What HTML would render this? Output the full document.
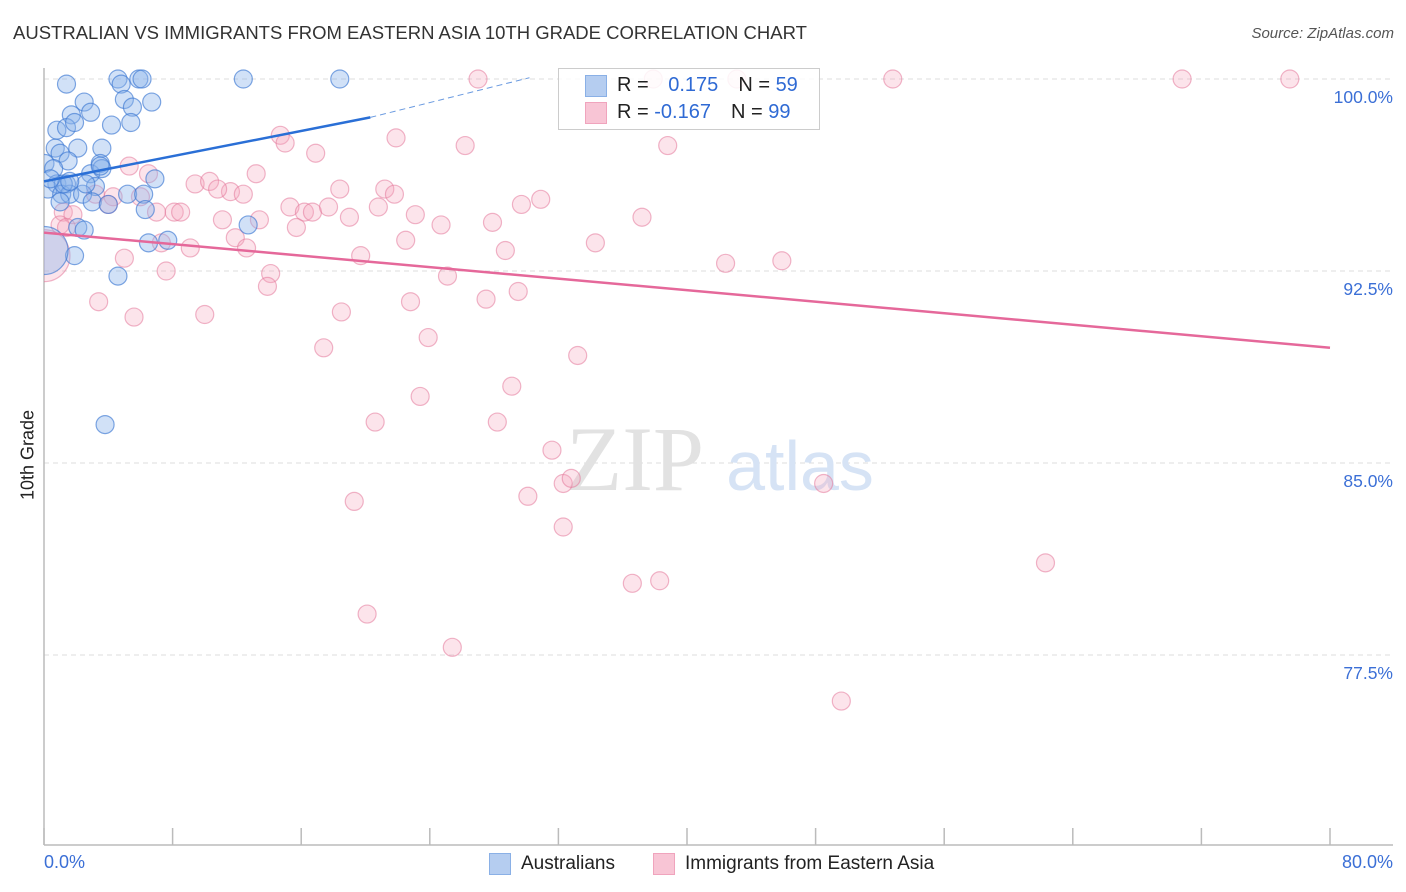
<!DOCTYPE html>
<html><head><meta charset="utf-8"><style>
body{margin:0;background:#fff;font-family:"Liberation Sans",sans-serif;}
#wrap{position:relative;width:1406px;height:892px;overflow:hidden;}
.t{position:absolute;white-space:nowrap;}
</style></head><body>
<div id="wrap">
<div class="t" style="left:13px;top:22px;font-size:18.5px;color:#333;">AUSTRALIAN VS IMMIGRANTS FROM EASTERN ASIA 10TH GRADE CORRELATION CHART</div>
<div class="t" style="right:12px;top:25px;font-size:15px;color:#555;font-style:italic;">Source: ZipAtlas.com</div>
<svg id="svg" width="1406" height="892" style="position:absolute;left:0;top:0"><defs><clipPath id="cp"><rect x="44" y="60" width="1360" height="785"/></clipPath></defs><g id="pts" clip-path="url(#cp)"></g></svg>
</div>
<script>
const yTicks=[100,92.5,85,77.5];
const yTickLabels=["100.0%","92.5%","85.0%","77.5%"];
const xTickCount=10;
const blueX=[1.4,4.6,4.8,5.9,6.1,12.4,18.4,2.5,5.0,6.7,1.7,2.9,5.5,0.8,1.4,1.9,4.2,5.4,3.6,0.7,2.1,3.5,1.0,1.5,0.06,0.6,2.9,3.6,6.9,0.8,1.4,3.2,0.25,1.1,1.6,2.4,3.0,5.2,6.2,4.0,6.3,2.1,2.5,6.5,7.7,12.7,4.6,1.9,3.8,1.2,2.6,0.4,1.6,3.5,1.0,0.0];
const blueY=[99.8,100,99.8,100,100,100,100,99.1,99.2,99.1,98.6,98.7,98.9,98.0,98.1,98.3,98.2,98.3,97.3,97.3,97.3,96.7,97.1,96.8,96.7,96.5,96.3,96.5,96.1,95.9,95.9,95.8,95.7,95.5,95.5,95.5,95.2,95.5,95.5,95.1,94.9,94.2,94.1,93.6,93.7,94.3,92.3,93.1,86.5,95.9,95.9,96.1,96.0,96.6,95.2,93.3];
const pinkX=[27.0,37.9,43.1,52.8,70.8,77.5,14.7,15.0,21.9,26.2,38.8,16.9,5.3,6.5,13.2,9.4,10.3,11.6,10.8,12.4,18.4,21.2,21.8,30.9,29.7,3.2,4.3,6.0,4.0,1.2,1.8,7.0,8.1,8.5,11.1,13.4,15.3,16.2,16.7,17.7,19.0,20.8,23.1,24.7,27.9,37.2,1.0,1.4,7.3,9.1,11.9,15.7,22.5,28.7,34.3,19.7,12.6,5.0,7.6,14.1,25.1,42.4,45.9,13.9,3.4,5.6,10.0,18.5,22.8,27.5,29.5,23.9,17.4,33.2,23.4,29.1,20.6,28.2,31.6,32.3,32.8,48.5,30.1,19.3,32.3,62.3,36.6,38.3,20.1,25.4,49.6,0.0];
const pinkY=[100,100,100,100,100,100,97.8,97.5,97.7,97.4,97.4,97.1,96.6,96.3,96.3,95.9,96.0,95.6,95.7,95.5,95.7,95.7,95.5,95.3,95.1,95.5,95.4,95.4,95.1,94.8,94.7,94.8,94.8,94.8,94.5,94.5,95.0,94.8,94.8,95.0,94.6,95.0,94.7,94.3,94.4,94.6,94.3,94.2,93.6,93.4,93.8,94.2,93.7,93.3,93.6,93.1,93.4,93.0,92.5,92.4,92.3,92.8,92.9,91.9,91.3,90.7,90.8,90.9,91.3,91.4,91.7,89.9,89.5,89.2,87.6,88.0,86.6,86.6,85.5,84.2,84.4,84.2,83.7,83.5,82.5,81.1,80.3,80.4,79.1,77.8,75.7,93.1];
const blueSize=[...blueX.map(()=>9)];blueSize[blueSize.length-1]=24;
const pinkSize=[...pinkX.map(()=>9)];pinkSize[pinkSize.length-1]=26;
const blueTrend=[[0,96.0],[20.3,98.5]], blueDash=[[20.3,98.5],[30.2,100.05]];
const pinkTrend=[[0,94.0],[80,89.5]];

const L=44,R=1330,T=79,PB=845;
const X=v=>L+v/80*(R-L);
const Y=v=>T+(100-v)*25.6;
const s=document.getElementById('svg');const P=document.getElementById('pts');const NS='http://www.w3.org/2000/svg';
function el(tag,a,parent){const e=document.createElementNS(NS,tag);for(const k in a)e.setAttribute(k,a[k]);(parent||s).appendChild(e);return e;}
yTicks.forEach((v,i)=>{
 const g=el('line',{x1:L,x2:1393,y1:Y(v),y2:Y(v),stroke:'#ddd','stroke-dasharray':'5,4'});
 
 
 const t=el('text',{x:1393,y:Y(v)+24,'text-anchor':'end','font-size':17.5,fill:'#3b6fd6','font-family':'Liberation Sans'});
 t.textContent=yTickLabels[i];
 
 
});
let a=el('line',{x1:L,x2:L,y1:68,y2:PB,stroke:'#bbb','stroke-width':1.5});


a=el('line',{x1:L,x2:1393,y1:PB,y2:PB,stroke:'#bbb','stroke-width':1.5});


for(let i=0;i<=xTickCount;i++){const x=L+i*(R-L)/xTickCount;const tk=el('line',{x1:x,x2:x,y1:828,y2:PB,stroke:'#bbb','stroke-width':1.5});
 
 }
let w=el('text',{x:635,y:490,'text-anchor':'middle','font-size':92,fill:'#e2e2e2','font-family':'Liberation Serif'});w.textContent='ZIP';


w=el('text',{x:800,y:490,'text-anchor':'middle','font-size':70,fill:'#d6e3f5','font-family':'Liberation Sans'});w.textContent='atlas';


s.appendChild(P);
pinkX.forEach((v,i)=>{const c=el('circle',{cx:X(v),cy:Y(pinkY[i]),r:pinkSize[i],fill:'rgba(244,165,190,0.3)',stroke:'rgba(228,120,155,0.55)','stroke-width':1.2},P);
 
 });
blueX.forEach((v,i)=>{const c=el('circle',{cx:X(v),cy:Y(blueY[i]),r:blueSize[i],fill:'rgba(140,180,235,0.4)',stroke:'rgba(60,120,210,0.65)','stroke-width':1.2},P);
 
 });
let ln=el('line',{x1:X(blueTrend[0][0]),y1:Y(blueTrend[0][1]),x2:X(blueTrend[1][0]),y2:Y(blueTrend[1][1]),stroke:'#2a6fd6','stroke-width':2.5});


ln=el('line',{x1:X(blueDash[0][0]),y1:Y(blueDash[0][1]),x2:X(blueDash[1][0]),y2:Y(blueDash[1][1]),stroke:'#6a9ae0','stroke-width':1,'stroke-dasharray':'6,4'});


ln=el('line',{x1:X(pinkTrend[0][0]),y1:Y(pinkTrend[0][1]),x2:X(pinkTrend[1][0]),y2:Y(pinkTrend[1][1]),stroke:'#e5689a','stroke-width':2.5});


</script>
<div class="t" style="left:558px;top:68px;width:260px;height:60px;border:1px solid #ccc;background:rgba(255,255,255,0.85);">
 <div class="t" style="left:26px;top:6px;width:20px;height:20px;background:#b5cdf0;border:1px solid #8ab0e6;"></div>
 <div class="t" style="left:58px;top:5px;font-size:20px;color:#222;">R = <span style="color:#2f6ad4;margin-left:14px">0.175</span><span style="margin-left:20px">N = </span><span style="color:#2f6ad4">59</span></div>
 <div class="t" style="left:26px;top:33px;width:20px;height:20px;background:#f8c5d5;border:1px solid #f0a4bd;"></div>
 <div class="t" style="left:58px;top:32px;font-size:20px;color:#222;">R = <span style="color:#2f6ad4">-0.167</span><span style="margin-left:20px">N = </span><span style="color:#2f6ad4">99</span></div>
</div>
<div class="t" style="left:18px;top:455px;transform:translate(-50%,-50%) rotate(-90deg);transform-origin:center;margin-left:10px;font-size:18px;color:#222;">10th Grade</div>
<div class="t" style="left:44px;top:852px;font-size:18px;color:#3b6fd6;">0.0%</div>
<div class="t" style="right:13px;top:852px;font-size:18px;color:#3b6fd6;">80.0%</div>
<div class="t" style="left:489px;top:853px;width:20px;height:20px;background:#b5cdf0;border:1px solid #8ab0e6;"></div>
<div class="t" style="left:521px;top:853px;font-size:19px;color:#222;">Australians</div>
<div class="t" style="left:653px;top:853px;width:20px;height:20px;background:#f8c5d5;border:1px solid #f0a4bd;"></div>
<div class="t" style="left:685px;top:853px;font-size:19px;color:#222;">Immigrants from Eastern Asia</div>
</body></html>
